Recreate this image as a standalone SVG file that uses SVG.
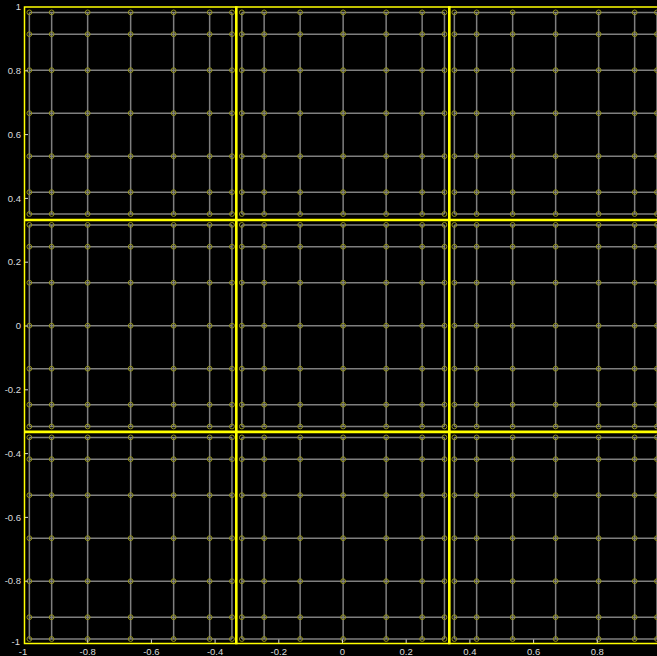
<svg xmlns="http://www.w3.org/2000/svg" xmlns:xlink="http://www.w3.org/1999/xlink" width="657" height="656" viewBox="0 0 657 656">
<style>
.grid{fill:none;stroke:#7f7f7f;stroke-width:1.5}
.node{fill:none;stroke:#94941f;stroke-width:1}
.bnd{stroke:#ffff00;fill:none}
.tick{stroke:#d9d9d9;stroke-width:1}
.lbl{font-family:"Liberation Sans",Arial,sans-serif;font-size:9.5px;fill:#dcdcdc}
</style>
<defs>
<g id="elem">
<path class="grid" d="M-101.3 -100.8H101.3M-101.3 -79H101.3M-101.3 -43H101.3M-101.3 0H101.3M-101.3 43H101.3M-101.3 79H101.3M-101.3 100.8H101.3M-101.3 -100.8V100.8M-79 -100.8V100.8M-43 -100.8V100.8M0 -100.8V100.8M43 -100.8V100.8M79 -100.8V100.8M101.3 -100.8V100.8"/>
<g id="row">
<circle class="node" cx="-101.3" cy="0" r="2.4"/><circle class="node" cx="-79" cy="0" r="2.4"/><circle class="node" cx="-43" cy="0" r="2.4"/><circle class="node" cx="0" cy="0" r="2.4"/><circle class="node" cx="43" cy="0" r="2.4"/><circle class="node" cx="79" cy="0" r="2.4"/><circle class="node" cx="101.3" cy="0" r="2.4"/>
</g>
</g>
</defs>
<rect width="657" height="656" fill="#000"/>
<g id="elements">
<g id="e11" transform="translate(130.65,113.2)"><use xlink:href="#elem"/><use xlink:href="#row" y="-100.8"/><use xlink:href="#row" y="-79"/><use xlink:href="#row" y="-43"/><use xlink:href="#row" y="43"/><use xlink:href="#row" y="79"/><use xlink:href="#row" y="100.8"/></g>
<g id="e12" transform="translate(343.15,113.2)"><use xlink:href="#elem"/><use xlink:href="#row" y="-100.8"/><use xlink:href="#row" y="-79"/><use xlink:href="#row" y="-43"/><use xlink:href="#row" y="43"/><use xlink:href="#row" y="79"/><use xlink:href="#row" y="100.8"/></g>
<g id="e13" transform="translate(555.65,113.2)"><use xlink:href="#elem"/><use xlink:href="#row" y="-100.8"/><use xlink:href="#row" y="-79"/><use xlink:href="#row" y="-43"/><use xlink:href="#row" y="43"/><use xlink:href="#row" y="79"/><use xlink:href="#row" y="100.8"/></g>
<g id="e21" transform="translate(130.65,325.7)"><use xlink:href="#elem"/><use xlink:href="#row" y="-100.8"/><use xlink:href="#row" y="-79"/><use xlink:href="#row" y="-43"/><use xlink:href="#row" y="43"/><use xlink:href="#row" y="79"/><use xlink:href="#row" y="100.8"/></g>
<g id="e22" transform="translate(343.15,325.7)"><use xlink:href="#elem"/><use xlink:href="#row" y="-100.8"/><use xlink:href="#row" y="-79"/><use xlink:href="#row" y="-43"/><use xlink:href="#row" y="43"/><use xlink:href="#row" y="79"/><use xlink:href="#row" y="100.8"/></g>
<g id="e23" transform="translate(555.65,325.7)"><use xlink:href="#elem"/><use xlink:href="#row" y="-100.8"/><use xlink:href="#row" y="-79"/><use xlink:href="#row" y="-43"/><use xlink:href="#row" y="43"/><use xlink:href="#row" y="79"/><use xlink:href="#row" y="100.8"/></g>
<g id="e31" transform="translate(130.65,538.2)"><use xlink:href="#elem"/><use xlink:href="#row" y="-100.8"/><use xlink:href="#row" y="-79"/><use xlink:href="#row" y="-43"/><use xlink:href="#row" y="43"/><use xlink:href="#row" y="79"/><use xlink:href="#row" y="100.8"/></g>
<g id="e32" transform="translate(343.15,538.2)"><use xlink:href="#elem"/><use xlink:href="#row" y="-100.8"/><use xlink:href="#row" y="-79"/><use xlink:href="#row" y="-43"/><use xlink:href="#row" y="43"/><use xlink:href="#row" y="79"/><use xlink:href="#row" y="100.8"/></g>
<g id="e33" transform="translate(555.65,538.2)"><use xlink:href="#elem"/><use xlink:href="#row" y="-100.8"/><use xlink:href="#row" y="-79"/><use xlink:href="#row" y="-43"/><use xlink:href="#row" y="43"/><use xlink:href="#row" y="79"/><use xlink:href="#row" y="100.8"/></g>
</g>
<g id="ticks">
<path class="tick" d="M24 70.8h4M24 134.6h4M24 198.4h4M24 262.2h4M24 326h4M24 389.8h4M24 453.6h4M24 517.4h4M24 581.2h4M87.7 644v-4.5M151.4 644v-4.5M215.1 644v-4.5M278.8 644v-4.5M342.5 644v-4.5M406.2 644v-4.5M469.9 644v-4.5M533.6 644v-4.5M597.3 644v-4.5"/>
</g>
<g id="boundaries">
<path class="bnd" stroke-width="1.5" d="M24.5 6.2V644.3M24 7H657M24 643.5H657"/>
<path class="bnd" stroke-width="2.6" d="M236.3 6.2V644.3M449.3 6.2V644.3M24 220H657M24 431.9H657"/>
</g>
<g id="ylabels" class="lbl" text-anchor="end">
<text x="21" y="10">1</text>
<text x="21" y="74">0.8</text>
<text x="21" y="137.8">0.6</text>
<text x="21" y="201.6">0.4</text>
<text x="21" y="265.4">0.2</text>
<text x="21" y="329.2">0</text>
<text x="21" y="393">-0.2</text>
<text x="21" y="456.8">-0.4</text>
<text x="21" y="520.6">-0.6</text>
<text x="21" y="584.4">-0.8</text>
<text x="20" y="645">-1</text>
</g>
<g id="xlabels" class="lbl" text-anchor="middle">
<text x="23" y="655">-1</text>
<text x="87.7" y="654.5">-0.8</text>
<text x="151.4" y="654.5">-0.6</text>
<text x="215.1" y="654.5">-0.4</text>
<text x="278.8" y="654.5">-0.2</text>
<text x="342.5" y="654.5">0</text>
<text x="406.2" y="654.5">0.2</text>
<text x="469.9" y="654.5">0.4</text>
<text x="533.6" y="654.5">0.6</text>
<text x="597.3" y="654.5">0.8</text>
</g>
</svg>
